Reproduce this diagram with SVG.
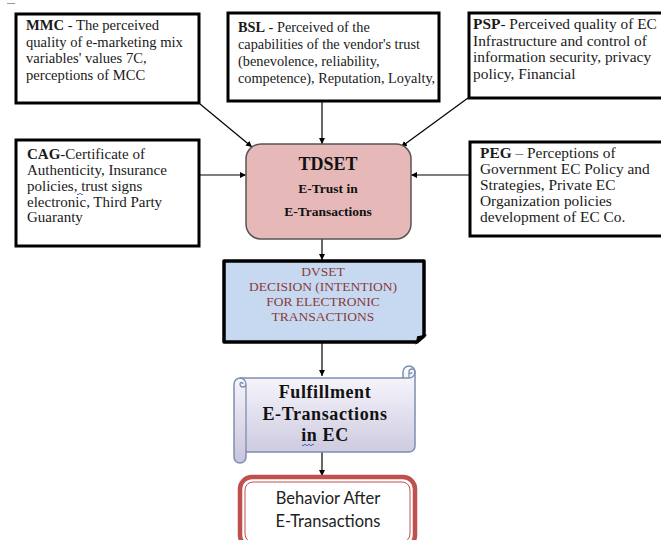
<svg xmlns="http://www.w3.org/2000/svg" width="661" height="540" viewBox="0 0 661 540">
<defs>
<style>
.box{fill:#fff;stroke:#000;stroke-width:3}
.t{font-family:"Liberation Serif","Times New Roman",serif;font-size:14px;fill:#1a1a1a}
.b{font-weight:bold}
.con{stroke:#000;stroke-width:1.2;fill:none}
.arr{marker-end:url(#ah)}
.dv{font-family:"Liberation Serif","Times New Roman",serif;font-size:13.5px;fill:#8b3a3a;text-anchor:middle}
.fu{font-family:"Liberation Serif","Times New Roman",serif;font-size:18px;font-weight:bold;fill:#111;text-anchor:middle;letter-spacing:0.6px}
.be{font-family:Lato,"Open Sans",sans-serif;font-size:16.5px;fill:#222;text-anchor:middle}
</style>
<marker id="ah" viewBox="0 0 10 10" refX="10" refY="5" markerWidth="6" markerHeight="6" orient="auto" markerUnits="userSpaceOnUse">
<path d="M0,0 L10,5 L0,10 Z" fill="#000"/>
</marker>
<linearGradient id="scr" x1="0" y1="0" x2="0" y2="1">
<stop offset="0" stop-color="#fbfbff"/>
<stop offset="1" stop-color="#c9c4dc"/>
</linearGradient>
</defs>
<rect width="661" height="540" fill="#fff"/>
<line x1="7" y1="3.5" x2="15" y2="3.5" stroke="#999" stroke-width="1"/>

<g id="connectors">
<line class="con arr" x1="200" y1="104" x2="252" y2="147"/>
<line class="con arr" x1="322" y1="102" x2="322" y2="144"/>
<line class="con arr" x1="468" y1="98" x2="401" y2="147"/>
<line class="con arr" x1="200" y1="175" x2="246" y2="175"/>
<line class="con arr" x1="469" y1="175" x2="411" y2="175"/>
<line class="con arr" x1="322" y1="239" x2="322" y2="260"/>
<line class="con arr" x1="322" y1="343" x2="322" y2="376"/>
<line class="con arr" x1="322" y1="452" x2="322" y2="476"/>
</g>

<g id="MMC" font-size="14.6">
<rect class="box" x="16" y="14" width="183" height="89"/>
<text class="t" style="font-size:14.6px" x="26" y="30"><tspan class="b">MMC</tspan> - The perceived</text>
<text class="t" style="font-size:14.6px" x="26" y="47">quality of e-marketing mix</text>
<text class="t" style="font-size:14.6px" x="26" y="63">variables' values 7C,</text>
<text class="t" style="font-size:14.6px" x="26" y="80">perceptions of MCC</text>
</g>

<g id="BSL">
<rect class="box" x="228" y="13" width="211" height="88"/>
<text class="t" style="font-size:14.3px" x="238" y="32"><tspan class="b">BSL</tspan> - Perceived of the</text>
<text class="t" style="font-size:14.3px" x="238" y="49">capabilities  of the vendor's trust</text>
<text class="t" style="font-size:14.3px" x="238" y="66">(benevolence,  reliability,</text>
<text class="t" style="font-size:14.3px" x="238" y="83">competence),  Reputation,  Loyalty,</text>
</g>

<g id="PSP">
<rect class="box" x="469" y="13" width="200" height="85"/>
<text class="t" style="font-size:15.4px" x="473" y="29"><tspan class="b">PSP</tspan>- Perceived quality of EC</text>
<text class="t" style="font-size:15.4px" x="473" y="46">Infrastructure and control of</text>
<text class="t" style="font-size:15.4px" x="473" y="62">information security, privacy</text>
<text class="t" style="font-size:15.4px" x="473" y="79">policy, Financial</text>
</g>

<g id="CAG">
<rect class="box" x="16" y="140" width="183" height="106"/>
<text class="t" style="font-size:15px" x="27" y="159"><tspan class="b">CAG</tspan>-Certificate of</text>
<text class="t" style="font-size:15px" x="27" y="175">Authenticity, Insurance</text>
<text class="t" style="font-size:15px" x="27" y="191">policies,  trust signs</text>
<path d="M77,194 q1,1.5 2,0 t2,0 t2,0" stroke="#3355cc" stroke-width="0.9" fill="none"/>
<text class="t" style="font-size:15px" x="27" y="207">electronic, Third Party</text>
<text class="t" style="font-size:15px" x="27" y="222">Guaranty</text>
</g>

<g id="PEG">
<rect class="box" x="470" y="142" width="200" height="94"/>
<text class="t" style="font-size:15.4px" x="480" y="158"><tspan class="b">PEG</tspan> – Perceptions of</text>
<text class="t" style="font-size:15.4px" x="480" y="174">Government EC Policy  and</text>
<text class="t" style="font-size:15.4px" x="480" y="190">Strategies, Private EC</text>
<text class="t" style="font-size:15.4px" x="480" y="206">Organization policies</text>
<text class="t" style="font-size:15.4px" x="480" y="222">development of EC Co.</text>
</g>

<g id="TDSET">
<rect x="246" y="144" width="165" height="95" rx="15" ry="15" fill="#e6b9b8" stroke="#555" stroke-width="1.5"/>
<text x="328" y="170" text-anchor="middle" font-family="'Liberation Serif','Times New Roman',serif" font-size="18" font-weight="bold" fill="#111">TDSET</text>
<text x="328" y="193" text-anchor="middle" font-family="'Liberation Serif','Times New Roman',serif" font-size="13.5" font-weight="bold" fill="#111">E-Trust in</text>
<text x="328" y="216" text-anchor="middle" font-family="'Liberation Serif','Times New Roman',serif" font-size="13.5" font-weight="bold" fill="#111">E-Transactions</text>
</g>

<g id="DVSET">
<path d="M224,261 H424 V336 L417,342 H224 Z" fill="#c6d9f1" stroke="#000" stroke-width="3.5" stroke-linejoin="round"/>
<path d="M417,342 L418,337 L424,336 Z" fill="#000" stroke="#000" stroke-width="2"/>
<text class="dv" x="323" y="276">DVSET</text>
<text class="dv" x="323" y="291">DECISION (INTENTION)</text>
<text class="dv" x="323" y="306">FOR ELECTRONIC</text>
<text class="dv" x="323" y="321">TRANSACTIONS</text>
</g>

<g id="Fulfillment">
<path d="M234,384 A6,6 0 0 1 240,378 H403 V372 A6,6 0 0 1 415,372 V446 A6,6 0 0 1 409,452 H246 V457 A6,6 0 0 1 234,457 Z" fill="url(#scr)" stroke="#7d8fae" stroke-width="1.5"/>
<path d="M246,384 V452 M240,378 A6,6 0 0 1 246,384 A3,3 0 0 1 240,384 A1.5,1.5 0 0 1 243,384 M403,378 H409 A6,6 0 0 0 415,372 M409,378 V372 A3,3 0 0 1 415,372 M409,372 A1.5,1.5 0 0 0 412,372" fill="none" stroke="#7d8fae" stroke-width="1.3"/>
<text class="fu" x="325" y="398">Fulfillment</text>
<text class="fu" x="325" y="420">E-Transactions</text>
<text class="fu" x="325" y="441">in EC</text>
<path d="M302,445 q1,1.5 2,0 t2,0 t2,0 t2,0 t2,0 t2,0" stroke="#3355cc" stroke-width="0.9" fill="none"/>
</g>

<g id="Behavior">
<rect x="240" y="477" width="175" height="70" rx="12" ry="12" fill="#fff" stroke="#c0504d" stroke-width="4.5"/>
<rect x="245" y="482" width="165" height="60" rx="8" ry="8" fill="none" stroke="#c0504d" stroke-width="1"/>
<text class="be" x="328" y="504">Behavior After</text>
<text class="be" x="328" y="527">E-Transactions</text>
</g>
</svg>
